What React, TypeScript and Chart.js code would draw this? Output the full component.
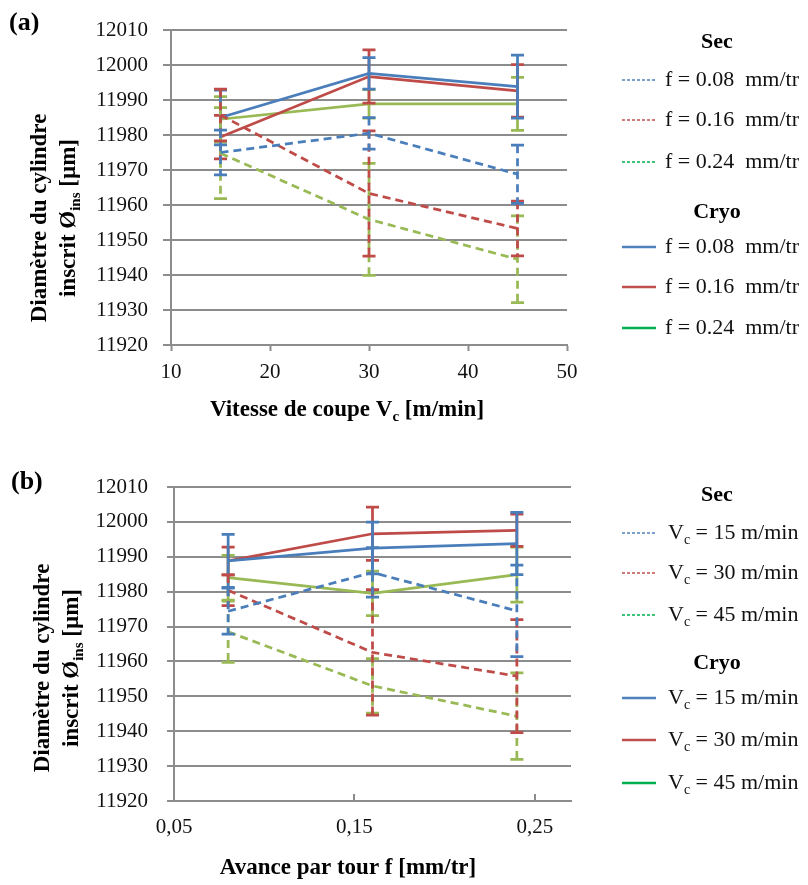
import React, { useEffect, useRef } from 'react';
import { Chart, registerables } from 'chart.js';

Chart.register(...registerables);

const SERIF = '"Liberation Serif", "Times New Roman", Times, serif';

// ---------- shared ----------
const yTickValues = [11920, 11930, 11940, 11950, 11960, 11970, 11980, 11990, 12000, 12010];
const yTickLabels = ['11920', '11930', '11940', '11950', '11960', '11970', '11980', '11990', '12000', '12010'];
const groupTitles = ['Sec', 'Cryo'];
const yTitleLines = ['Diamètre du cylindre', 'inscrit Ø_{ins} [µm]'];

// ---------- panel (a): vs cutting speed ----------
const vcValues = [15, 30, 45];
const aXTickValues = [10, 20, 30, 40, 50];
const aXTickLabels = ['10', '20', '30', '40', '50'];
const aXTitle = 'Vitesse de coupe V_{c} [m/min]';
const aLegendLabels = ['f = 0.08  mm/tr', 'f = 0.16  mm/tr', 'f = 0.24  mm/tr'];

const aSec008 = [11975.0, 11980.5, 11968.8];
const aSec008Err = [6.4, 4.5, 8.3];
const aSec016 = [11985.7, 11963.3, 11953.3];
const aSec016Err = [7.4, 17.9, 7.8];
const aSec024 = [11974.8, 11955.9, 11944.5];
const aSec024Err = [13.0, 16.0, 12.4];
const aCryo008 = [11985.0, 11997.6, 11993.8];
const aCryo008Err = [7.8, 4.5, 9.0];
const aCryo016 = [11979.4, 11996.7, 11992.6];
const aCryo016Err = [6.2, 7.6, 7.5];
const aCryo024 = [11984.5, 11988.9, 11988.9];
const aCryo024Err = [6.5, 4.1, 7.6];

// ---------- panel (b): vs feed ----------
const fValues = [0.08, 0.16, 0.24];
const bXTickValues = [0.05, 0.15, 0.25];
const bXTickLabels = ['0,05', '0,15', '0,25'];
const bXTitle = 'Avance par tour f [mm/tr]';
const bLegendLabels = ['V_{c} = 15 m/min', 'V_{c} = 30 m/min', 'V_{c} = 45 m/min'];

const bSec15 = [11974.4, 11985.5, 11974.5];
const bSec15Err = [6.6, 7.1, 13.1];
const bSec30 = [11980.4, 11962.6, 11955.8];
const bSec30Err = [4.4, 18.0, 16.2];
const bSec45 = [11968.5, 11953.0, 11944.3];
const bSec45Err = [8.8, 7.8, 12.4];
const bCryo15 = [11988.8, 11992.5, 11993.8];
const bCryo15Err = [7.6, 7.4, 8.9];
const bCryo30 = [11988.8, 11996.6, 11997.6];
const bCryo30Err = [4.0, 7.6, 4.6];
const bCryo45 = [11984.0, 11979.5, 11984.9];
const bCryo45Err = [6.4, 6.4, 7.9];

// ---------- styles ----------
const BLUE = '#4a7ebb';
const RED = '#be4b48';
const GREEN = '#98b954';
const LEG_BLUE = '#4f81bd';
const LEG_RED = '#c0504d';
const LEG_GREEN = '#00b050';
const GRID = '#8c8c8c';
const LINE_W = 2.75;
const DASH = [8, 5];
const TICK_SIZE = 21;
const TITLE_SIZE = 23;
const LEGEND_SIZE = 22;

type Part = { t: string; sub: boolean };
function parseRich(s: string): Part[] {
  const parts: Part[] = [];
  const re = /_\{([^}]*)\}/g;
  let last = 0;
  let m: RegExpExecArray | null;
  while ((m = re.exec(s))) {
    if (m.index > last) parts.push({ t: s.slice(last, m.index), sub: false });
    parts.push({ t: m[1], sub: true });
    last = re.lastIndex;
  }
  if (last < s.length) parts.push({ t: s.slice(last), sub: false });
  return parts;
}

function drawRich(ctx: CanvasRenderingContext2D, s: string, x: number, y: number, size: number, bold: boolean, align: 'left' | 'center') {
  const parts = parseRich(s);
  const mainFont = `${bold ? 'bold ' : ''}${size}px ${SERIF}`;
  const subFont = `${bold ? 'bold ' : ''}${Math.round(size * 0.65)}px ${SERIF}`;
  const widths = parts.map((p) => {
    ctx.font = p.sub ? subFont : mainFont;
    return ctx.measureText(p.t).width;
  });
  const total = widths.reduce((a, b) => a + b, 0);
  let cx = align === 'center' ? x - total / 2 : x;
  ctx.textAlign = 'left';
  ctx.textBaseline = 'middle';
  parts.forEach((p, i) => {
    ctx.font = p.sub ? subFont : mainFont;
    ctx.fillText(p.t, cx, p.sub ? y + size * 0.32 : y);
    cx += widths[i];
  });
}

type SeriesSpec = { y: number[]; err: number[]; color: string; legendColor: string; dashed: boolean; legend: string };

function makeDatasets(xs: number[], series: SeriesSpec[]) {
  return series.map((s) => ({
    label: s.legend,
    data: xs.map((x, i) => ({ x, y: s.y[i] })),
    borderColor: s.color,
    backgroundColor: s.color,
    borderWidth: LINE_W,
    borderDash: s.dashed ? DASH : [],
    showLine: true,
    pointRadius: 0,
    pointHoverRadius: 0,
    tension: 0,
    errors: s.err,
    legendColor: s.legendColor,
    dashed: s.dashed,
  }));
}

const errorBarPlugin = {
  id: 'errorBars',
  afterDatasetDraw(chart: any, args: any) {
    const ds = chart.data.datasets[args.index];
    if (!ds || !ds.errors) return;
    const ctx = chart.ctx as CanvasRenderingContext2D;
    const xs = chart.scales.x;
    const ys = chart.scales.y;
    ctx.save();
    ctx.strokeStyle = ds.borderColor;
    ctx.lineWidth = LINE_W;
    ds.data.forEach((p: any, i: number) => {
      const e = ds.errors[i];
      const px = xs.getPixelForValue(p.x);
      const top = ys.getPixelForValue(p.y + e);
      const bot = ys.getPixelForValue(p.y - e);
      ctx.setLineDash(ds.dashed ? DASH : []);
      ctx.beginPath();
      ctx.moveTo(px, top);
      ctx.lineTo(px, bot);
      ctx.stroke();
      ctx.setLineDash([]);
      ctx.beginPath();
      ctx.moveTo(px - 6.5, top);
      ctx.lineTo(px + 6.5, top);
      ctx.moveTo(px - 6.5, bot);
      ctx.lineTo(px + 6.5, bot);
      ctx.stroke();
    });
    ctx.restore();
  },
};

type Decor = {
  tag: string;
  tagX: number;
  tagY: number;
  xTitle: string;
  xTitleX: number;
  xTitleY: number;
  yTitleXs: number[];
  yTitleY: number;
  legendCenterX: number;
  legendLineX1: number;
  legendLineX2: number;
  legendTextX: number;
  headerYs: number[];
  itemYs: number[][];
  innerXTicks: boolean;
};

function decorPlugin(d: Decor) {
  return {
    id: 'decor',
    beforeDatasetsDraw(chart: any) {
      if (!d.innerXTicks) return;
      const ctx = chart.ctx as CanvasRenderingContext2D;
      const xs = chart.scales.x;
      const bottom = chart.chartArea.bottom;
      ctx.save();
      ctx.strokeStyle = GRID;
      ctx.lineWidth = 2;
      xs.ticks.forEach((t: any, i: number) => {
        if (i === 0) return;
        const px = Math.round(xs.getPixelForValue(t.value));
        ctx.beginPath();
        ctx.moveTo(px, bottom);
        ctx.lineTo(px, bottom - 7);
        ctx.stroke();
      });
      ctx.restore();
    },
    afterDraw(chart: any) {
      const ctx = chart.ctx as CanvasRenderingContext2D;
      ctx.save();
      ctx.fillStyle = '#000';
      ctx.font = `bold 26px ${SERIF}`;
      ctx.textAlign = 'left';
      ctx.textBaseline = 'middle';
      ctx.fillText(d.tag, d.tagX, d.tagY);
      drawRich(ctx, d.xTitle, d.xTitleX, d.xTitleY, TITLE_SIZE, true, 'center');
      yTitleLines.forEach((line, i) => {
        ctx.save();
        ctx.translate(d.yTitleXs[i], d.yTitleY);
        ctx.rotate(-Math.PI / 2);
        drawRich(ctx, line, 0, 0, TITLE_SIZE, true, 'center');
        ctx.restore();
      });
      const dss = chart.data.datasets;
      groupTitles.forEach((g, gi) => {
        ctx.fillStyle = '#000';
        ctx.font = `bold ${LEGEND_SIZE}px ${SERIF}`;
        ctx.textAlign = 'center';
        ctx.textBaseline = 'middle';
        ctx.fillText(g, d.legendCenterX, d.headerYs[gi]);
        for (let k = 0; k < 3; k++) {
          const ds = dss[gi * 3 + k];
          const y = d.itemYs[gi][k];
          ctx.save();
          ctx.strokeStyle = ds.legendColor;
          if (ds.dashed) {
            ctx.lineWidth = 1.6;
            ctx.setLineDash([3, 2]);
          } else {
            ctx.lineWidth = 2.5;
            ctx.setLineDash([]);
          }
          ctx.beginPath();
          ctx.moveTo(d.legendLineX1, y);
          ctx.lineTo(d.legendLineX2, y);
          ctx.stroke();
          ctx.restore();
          ctx.fillStyle = '#111';
          drawRich(ctx, ds.label, d.legendTextX, y, LEGEND_SIZE, false, 'left');
        }
      });
      ctx.restore();
    },
  };
}

type Panel = {
  xs: number[];
  series: SeriesSpec[];
  xMin: number;
  xMax: number;
  xTickValues: number[];
  xTickLabels: string[];
  height: number;
  padTop: number;
  padRight: number;
  yWidth: number;
  xHeight: number;
  yTickLen: number;
  yTickPad: number;
  xTickLen: number;
  xTickPad: number;
  decor: Decor;
};

function buildConfig(p: Panel): any {
  return {
    type: 'scatter',
    data: { datasets: makeDatasets(p.xs, p.series) },
    options: {
      animation: false,
      responsive: false,
      devicePixelRatio: 1,
      events: [],
      layout: { padding: { top: p.padTop, right: p.padRight, left: 0, bottom: 0 } },
      plugins: { legend: { display: false }, tooltip: { enabled: false }, title: { display: false } },
      scales: {
        x: {
          type: 'linear',
          min: p.xMin,
          max: p.xMax,
          afterBuildTicks: (scale: any) => {
            scale.ticks = p.xTickValues.map((v) => ({ value: v }));
          },
          afterFit: (scale: any) => {
            scale.height = p.xHeight;
          },
          grid: {
            drawOnChartArea: false,
            drawTicks: p.xTickLen > 0,
            tickLength: p.xTickLen,
            tickColor: GRID,
            tickWidth: 2,
            color: GRID,
          },
          border: { display: true, color: GRID, width: 2 },
          ticks: {
            autoSkip: false,
            maxRotation: 0,
            padding: p.xTickPad,
            color: '#111',
            font: { family: SERIF, size: TICK_SIZE },
            callback: (v: any) => {
              const idx = p.xTickValues.findIndex((t) => Math.abs(t - v) < 1e-9);
              return idx >= 0 ? p.xTickLabels[idx] : '';
            },
          },
        },
        y: {
          type: 'linear',
          min: yTickValues[0],
          max: yTickValues[yTickValues.length - 1],
          afterBuildTicks: (scale: any) => {
            scale.ticks = yTickValues.map((v) => ({ value: v }));
          },
          afterFit: (scale: any) => {
            scale.width = p.yWidth;
          },
          grid: {
            color: GRID,
            lineWidth: 2,
            drawTicks: true,
            tickLength: p.yTickLen,
            tickColor: GRID,
            tickWidth: 2,
          },
          border: { display: true, color: GRID, width: 2 },
          ticks: {
            padding: p.yTickPad,
            color: '#111',
            font: { family: SERIF, size: TICK_SIZE },
            callback: (v: any) => {
              const idx = yTickValues.indexOf(v);
              return idx >= 0 ? yTickLabels[idx] : '';
            },
          },
        },
      },
    },
    plugins: [errorBarPlugin, decorPlugin(p.decor)],
  };
}

const panelA: Panel = {
  xs: vcValues,
  series: [
    { y: aSec008, err: aSec008Err, color: BLUE, legendColor: LEG_BLUE, dashed: true, legend: aLegendLabels[0] },
    { y: aSec016, err: aSec016Err, color: RED, legendColor: LEG_RED, dashed: true, legend: aLegendLabels[1] },
    { y: aSec024, err: aSec024Err, color: GREEN, legendColor: LEG_GREEN, dashed: true, legend: aLegendLabels[2] },
    { y: aCryo008, err: aCryo008Err, color: BLUE, legendColor: LEG_BLUE, dashed: false, legend: aLegendLabels[0] },
    { y: aCryo016, err: aCryo016Err, color: RED, legendColor: LEG_RED, dashed: false, legend: aLegendLabels[1] },
    { y: aCryo024, err: aCryo024Err, color: GREEN, legendColor: LEG_GREEN, dashed: false, legend: aLegendLabels[2] },
  ],
  xMin: aXTickValues[0],
  xMax: aXTickValues[aXTickValues.length - 1],
  xTickValues: aXTickValues,
  xTickLabels: aXTickLabels,
  height: 440,
  padTop: 30,
  padRight: 241,
  yWidth: 171,
  xHeight: 95,
  yTickLen: 8,
  yTickPad: 15,
  xTickLen: 6,
  xTickPad: 9,
  decor: {
    tag: '(a)',
    tagX: 9,
    tagY: 23,
    xTitle: aXTitle,
    xTitleX: 347,
    xTitleY: 410,
    yTitleXs: [40, 69],
    yTitleY: 218,
    legendCenterX: 717,
    legendLineX1: 622,
    legendLineX2: 656,
    legendTextX: 665,
    headerYs: [42, 212],
    itemYs: [
      [80, 120, 162],
      [247, 287, 328],
    ],
    innerXTicks: false,
  },
};

const panelB: Panel = {
  xs: fValues,
  series: [
    { y: bSec15, err: bSec15Err, color: BLUE, legendColor: LEG_BLUE, dashed: true, legend: bLegendLabels[0] },
    { y: bSec30, err: bSec30Err, color: RED, legendColor: LEG_RED, dashed: true, legend: bLegendLabels[1] },
    { y: bSec45, err: bSec45Err, color: GREEN, legendColor: LEG_GREEN, dashed: true, legend: bLegendLabels[2] },
    { y: bCryo15, err: bCryo15Err, color: BLUE, legendColor: LEG_BLUE, dashed: false, legend: bLegendLabels[0] },
    { y: bCryo30, err: bCryo30Err, color: RED, legendColor: LEG_RED, dashed: false, legend: bLegendLabels[1] },
    { y: bCryo45, err: bCryo45Err, color: GREEN, legendColor: LEG_GREEN, dashed: false, legend: bLegendLabels[2] },
  ],
  xMin: bXTickValues[0],
  xMax: 0.27,
  xTickValues: bXTickValues,
  xTickLabels: bXTickLabels,
  height: 445,
  padTop: 47,
  padRight: 237,
  yWidth: 174,
  xHeight: 84,
  yTickLen: 7,
  yTickPad: 19,
  xTickLen: 0,
  xTickPad: 14,
  decor: {
    tag: '(b)',
    tagX: 11,
    tagY: 42,
    xTitle: bXTitle,
    xTitleX: 348,
    xTitleY: 428,
    yTitleXs: [43, 72],
    yTitleY: 228,
    legendCenterX: 717,
    legendLineX1: 622,
    legendLineX2: 656,
    legendTextX: 668,
    headerYs: [55, 223],
    itemYs: [
      [93, 133, 175],
      [258, 300, 343],
    ],
    innerXTicks: true,
  },
};

function ChartPanel({ panel, top }: { panel: Panel; top: number }) {
  const ref = useRef<HTMLCanvasElement | null>(null);
  useEffect(() => {
    if (!ref.current) return;
    const chart = new Chart(ref.current, buildConfig(panel));
    return () => chart.destroy();
  }, [panel]);
  return (
    <canvas
      ref={ref}
      width={808}
      height={panel.height}
      style={{ position: 'absolute', left: 0, top, width: 808, height: panel.height, display: 'block' }}
    />
  );
}

export default function App() {
  return (
    <div style={{ position: 'absolute', left: 0, top: 0, width: 808, height: 885, background: '#fff' }}>
      <ChartPanel panel={panelA} top={0} />
      <ChartPanel panel={panelB} top={440} />
    </div>
  );
}
